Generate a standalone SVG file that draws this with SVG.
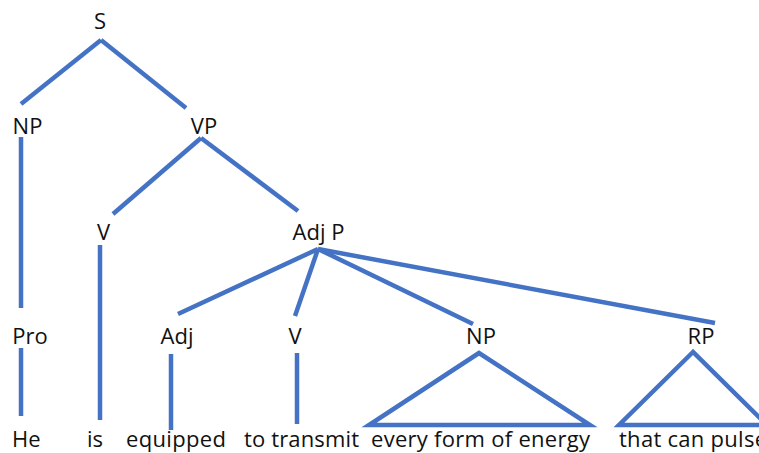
<svg xmlns="http://www.w3.org/2000/svg" width="759" height="453" viewBox="0 0 759 453">
<style>
text{font-family:"Open Sans","Liberation Sans",sans-serif;font-size:22px;fill:#111}
.c line,.c polygon{stroke:#4472C4;stroke-width:4.5;fill:none}
</style>
<rect width="759" height="453" fill="#fff"/>
<g class="c" id="connectors">
<line x1="101" y1="40" x2="21" y2="104"/>
<line x1="101" y1="40" x2="186" y2="108"/>
<line x1="21" y1="137" x2="21" y2="308"/>
<line x1="201" y1="138" x2="113" y2="214"/>
<line x1="201" y1="138" x2="298" y2="211"/>
<line x1="100" y1="245" x2="100" y2="420"/>
<line x1="318" y1="249" x2="178" y2="314"/>
<line x1="318" y1="249" x2="295" y2="316"/>
<line x1="318" y1="249" x2="473" y2="324"/>
<line x1="318" y1="249" x2="715" y2="323"/>
<line x1="21" y1="348" x2="21" y2="416"/>
<line x1="171" y1="354" x2="171" y2="430"/>
<line x1="297" y1="353" x2="297" y2="424"/>
<polygon points="479,353 369,425 590,425"/>
<polygon points="693,352 619,425 767,425"/>
</g>
<g id="n-S"><text x="100" y="28.5" text-anchor="middle">S</text></g>
<g id="n-NP"><text x="27.5" y="134" text-anchor="middle">NP</text></g>
<g id="n-VP"><text x="204" y="134" text-anchor="middle">VP</text></g>
<g id="n-V1"><text x="103.5" y="240" text-anchor="middle">V</text></g>
<g id="n-AdjP"><text x="318.5" y="240" text-anchor="middle">Adj P</text></g>
<g id="n-Pro"><text x="30" y="344" text-anchor="middle">Pro</text></g>
<g id="n-Adj"><text x="177" y="344" text-anchor="middle">Adj</text></g>
<g id="n-V2"><text x="295" y="344" text-anchor="middle">V</text></g>
<g id="n-NP2"><text x="481" y="344" text-anchor="middle">NP</text></g>
<g id="n-RP"><text x="701" y="344" text-anchor="middle">RP</text></g>
<g id="w-He"><text x="12" y="447">He</text></g>
<g id="w-is"><text x="87" y="447">is</text></g>
<g id="w-equipped"><text x="126" y="447" textLength="100">equipped</text></g>
<g id="w-totransmit"><text x="244" y="447" textLength="115">to transmit</text></g>
<g id="w-every"><text x="371" y="447" textLength="219">every form of energy</text></g>
<g id="w-that"><text x="619" y="447" textLength="148">that can pulse</text></g>
</svg>
